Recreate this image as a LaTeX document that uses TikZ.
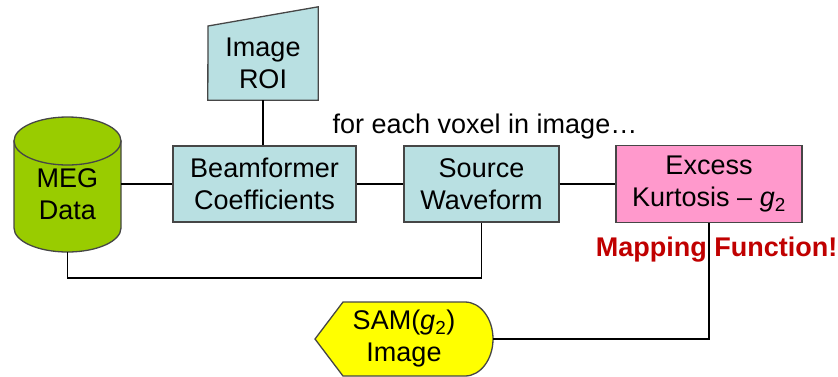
\documentclass[tikz,border=0pt]{standalone}
\usepackage{fontspec}
\setmainfont{Liberation Sans}
\definecolor{lblue}{RGB}{185,224,226}
\definecolor{lpink}{RGB}{255,153,204}
\definecolor{lgreen}{RGB}{153,204,0}
\definecolor{lyellow}{RGB}{255,255,0}
\definecolor{boxline}{RGB}{70,70,70}
\definecolor{dred}{RGB}{192,0,0}
\begin{document}
\begin{tikzpicture}[x=1pt,y=-1pt,
  txt/.style={align=center, inner sep=0pt, font=\fontsize{27}{32}\selectfont},
  box/.style={txt, draw=boxline, line width=1.3pt},
  conn/.style={draw=black, line width=1.3pt},
  shapeline/.style={draw=boxline, line width=1.3pt}]
\useasboundingbox (0,0) rectangle (838,376);
\coordinate (megE) at (121,184);
\coordinate (megS) at (67.5,252);
\coordinate (samE) at (493,339);
\node[box, fill=lblue, minimum width=183pt, minimum height=76pt] (beam) at (264.5,184) {Beamformer\\Coefficients};
\node[box, fill=lblue, minimum width=155pt, minimum height=76pt] (src) at (481.5,184) {Source\\Waveform};
\node[box, fill=lpink, minimum width=186pt, minimum height=77pt] (kurt) at (709,184) {Excess\\Kurtosis -- \textit{g}\textsubscript{2}};
\node[inner sep=0pt, minimum width=110pt, minimum height=93pt] (roi) at (263,53.5) {};
% MEG cylinder
\draw[shapeline, fill=lgreen] (14,141) -- (14,228) arc[start angle=180,end angle=0,x radius=53.5,y radius=24] -- (121,141) -- cycle;
\draw[shapeline, fill=lgreen] (67.5,141) ellipse[x radius=53.5, y radius=24];
\node[txt] (meg) at (67.5,194) {MEG\\Data};
% ROI manual input
\draw[shapeline, fill=lblue] (roi.south west) -- (208,26) -- (roi.north east) -- (roi.south east) -- cycle;
\node[txt] (roitxt) at (263,63) {Image\\ROI};
% SAM display
\draw[shapeline, fill=lyellow] (315,339) -- (343,302) -- (465,302) arc[start angle=-90,end angle=90,x radius=28,y radius=37] -- (343,376) -- cycle;
\node[txt] (sam) at (404,339) {SAM(\textit{g}\textsubscript{2})\\Image};
% connectors
\draw[conn] (megE) -- (beam.west);
\draw[conn] (beam.east) -- (src.west);
\draw[conn] (src.east) -- (kurt.west);
\draw[conn] (roi.south) -- (roi.south |- beam.north);
\draw[conn] (megS) -- (megS |- 0,278) -| (src.south);
\draw[conn] (kurt.south) |- (samE);
% labels
\node[txt] (voxel) at (485,127) {for each voxel in image…};
\node[txt, font=\fontsize{27}{32}\selectfont\bfseries, text=dred] (mapf) at (716.5,250) {Mapping Function!};
\end{tikzpicture}
\end{document}
